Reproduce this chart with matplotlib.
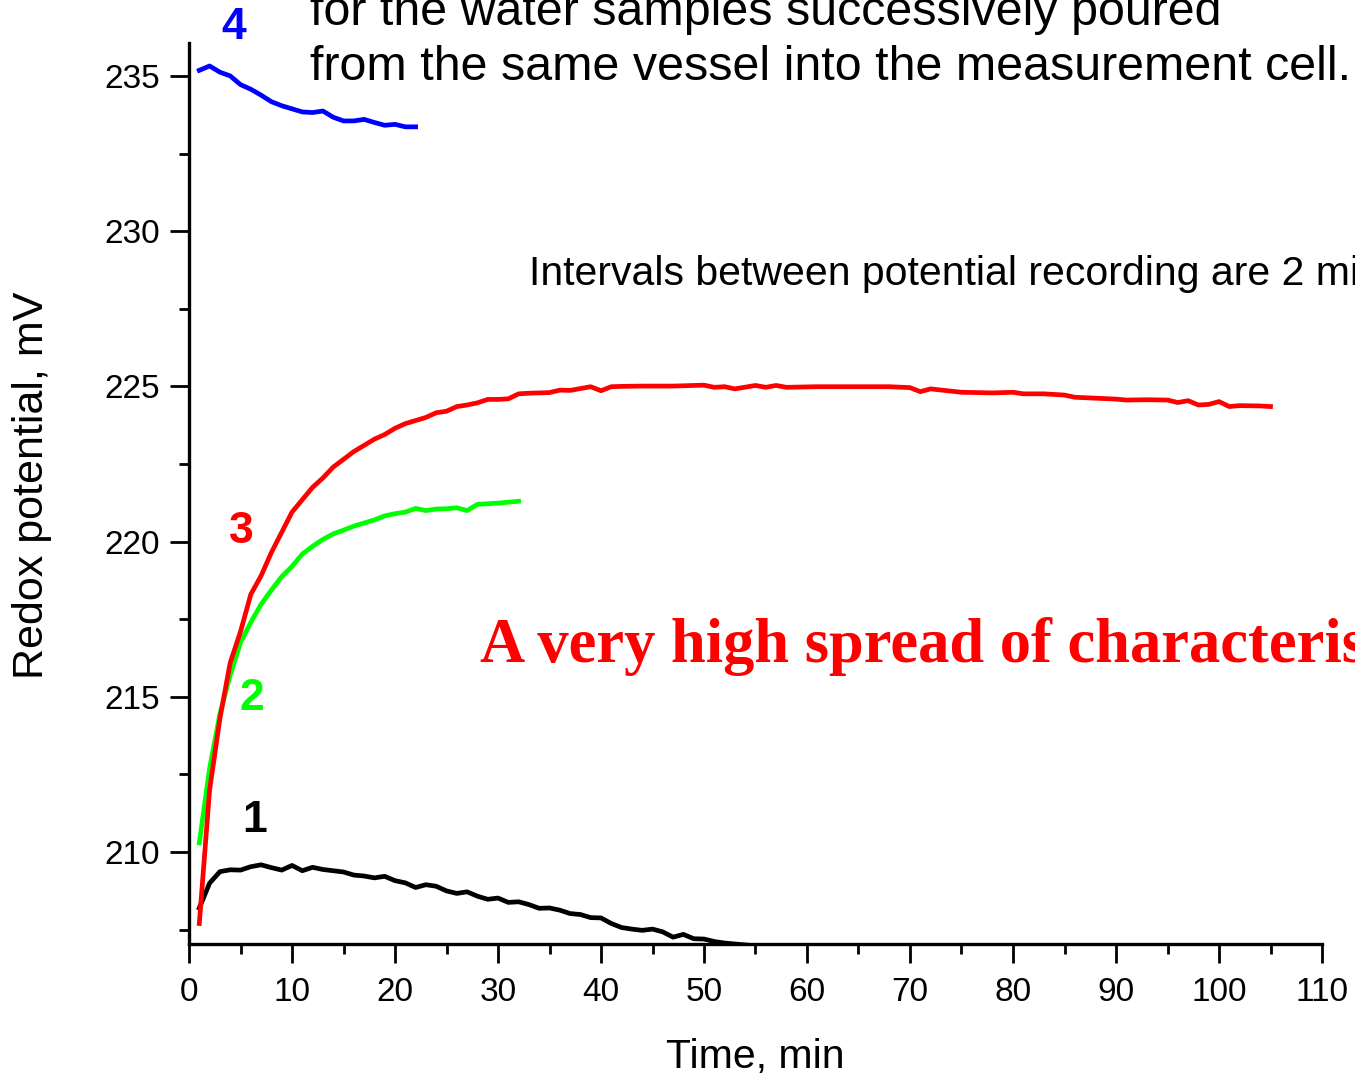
import matplotlib
matplotlib.use('Agg')
import matplotlib.pyplot as plt
from matplotlib.ticker import MultipleLocator

# curve 1 (black)
t1 = list(range(1, 57))
v1 = [208.2, 209.0, 209.37, 209.43, 209.42, 209.53, 209.59, 209.5, 209.42, 209.57,
      209.4, 209.51, 209.44, 209.4, 209.36, 209.26, 209.23, 209.17, 209.22, 209.08,
      209.01, 208.86, 208.95, 208.9, 208.75, 208.67, 208.72, 208.58, 208.48, 208.52,
      208.38, 208.4, 208.31, 208.19, 208.2, 208.13, 208.02, 207.99, 207.89, 207.88,
      207.7, 207.57, 207.52, 207.48, 207.52, 207.43, 207.26, 207.35, 207.21, 207.2,
      207.12, 207.07, 207.04, 207.01, 206.98, 206.95]

# curve 2 (green)
t2 = list(range(1, 33))
v2 = [210.3, 212.7, 214.45, 215.7, 216.75, 217.4, 217.98, 218.44, 218.87, 219.2,
      219.6, 219.85, 220.07, 220.25, 220.37, 220.5, 220.6, 220.7, 220.83, 220.9,
      220.95, 221.07, 221.0, 221.05, 221.06, 221.09, 221.0, 221.2, 221.22, 221.24,
      221.27, 221.3]

# curve 3 (red)
t3 = list(range(1, 43)) + [44, 47, 50, 51, 52, 53, 55, 56, 57, 58, 61, 66, 68, 70,
                           71, 72, 75, 78, 80, 81, 83, 85, 86, 88, 90, 91, 93, 95,
                           96, 97, 98, 99, 100, 101, 102, 104, 105]
v3 = [207.7, 212.0, 214.3, 216.1, 217.1, 218.3, 218.9, 219.65, 220.3, 220.95,
      221.35, 221.75, 222.05, 222.4, 222.65, 222.9, 223.1, 223.3, 223.45, 223.65,
      223.8, 223.9, 224.0, 224.15, 224.2, 224.35, 224.4, 224.47, 224.58, 224.58,
      224.6, 224.76, 224.78, 224.79, 224.8, 224.88, 224.87, 224.93, 224.99, 224.86,
      224.99, 225.0,
      225.01, 225.01, 225.04, 224.97, 224.99, 224.92, 225.03, 224.97, 225.03, 224.97,
      224.99, 224.99, 224.99, 224.96, 224.83, 224.92, 224.81, 224.79, 224.81, 224.76,
      224.76, 224.72, 224.65, 224.62, 224.59, 224.56, 224.57, 224.56, 224.48, 224.54,
      224.4, 224.42, 224.51, 224.35, 224.38, 224.37, 224.35]

# curve 4 (blue)
t4 = list(range(1, 23))
v4 = [235.18, 235.32, 235.12, 235.0, 234.72, 234.57, 234.38, 234.17, 234.04, 233.94,
      233.84, 233.82, 233.87, 233.67, 233.55, 233.55, 233.6, 233.5, 233.41, 233.44,
      233.36, 233.36]

plt.rcParams['font.family'] = ['Liberation Sans', 'DejaVu Sans']

fig = plt.figure(figsize=(13.55, 10.79), dpi=100)
ax = fig.add_axes([189 / 1355, 1 - 944 / 1079, 1133 / 1355, 901 / 1079])

ax.plot(t1, v1, color='black', lw=3.4)
ax.plot(t2, v2, color='#00ff00', lw=3.4)
ax.plot(t3, v3, color='red', lw=3.4)
ax.plot(t4, v4, color='blue', lw=3.4)

ax.set_xlim(0, 110)
ax.set_ylim(207.04, 236.06)

ax.spines['top'].set_visible(False)
ax.spines['right'].set_visible(False)
for s in ['left', 'bottom']:
    ax.spines[s].set_linewidth(2.4)

ax.xaxis.set_major_locator(MultipleLocator(10))
ax.xaxis.set_minor_locator(MultipleLocator(5))
ax.yaxis.set_major_locator(MultipleLocator(5))
ax.yaxis.set_minor_locator(MultipleLocator(2.5))
ax.set_yticks([210, 215, 220, 225, 230, 235])
ax.tick_params(axis='both', which='major', direction='out', length=14, width=2.0,
               labelsize=24)
ax.tick_params(axis='both', which='minor', direction='out', length=7, width=2.0)
ax.tick_params(axis='x', which='major', pad=10)
ax.tick_params(axis='y', which='major', pad=7)

ax.set_xlabel('Time, min', fontsize=29.5)
ax.xaxis.set_label_coords(0.5, -0.1254)
ax.xaxis.label.set_va('center')
ax.set_ylabel('Redox potential, mV', fontsize=31)
ax.yaxis.set_label_coords(-0.1386, 0.5094)
ax.yaxis.label.set_va('center')

# curve numbers
ax.text(4.3, 236.55, '4', color='blue', fontsize=32, fontweight='bold',
        ha='center', va='center', clip_on=False)
ax.text(5.05, 220.34, '3', color='red', fontsize=32, fontweight='bold',
        ha='center', va='center')
ax.text(6.1, 214.96, '2', color='#00ff00', fontsize=32, fontweight='bold',
        ha='center', va='center')
ax.text(6.4, 211.03, '1', color='black', fontsize=32, fontweight='bold',
        ha='center', va='center')

fig.text(310 / 1355, 1 - 25 / 1079, 'for the water samples successively poured',
         fontsize=34.8, va='baseline', ha='left')
fig.text(310 / 1355, 1 - 80 / 1079, 'from the same vessel into the measurement cell.',
         fontsize=34.8, va='baseline', ha='left')
fig.text(529 / 1355, 1 - 285 / 1079, 'Intervals between potential recording are 2 min',
         fontsize=29.5, va='baseline', ha='left')
fig.text(480 / 1355, 1 - 662 / 1079, 'A very high spread of characteristics',
         fontsize=45, fontweight='bold', color='red', family='Liberation Serif',
         va='baseline', ha='left')

fig.savefig('out.png', dpi=100)
